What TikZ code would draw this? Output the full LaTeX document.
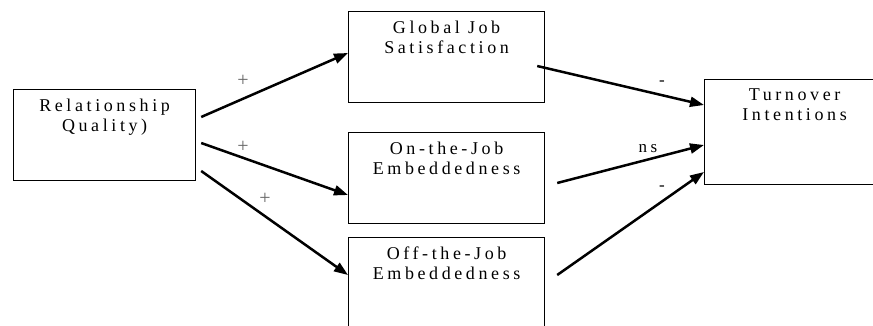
\documentclass[tikz,border=0pt]{standalone}
\usepackage{fontspec}
\setmainfont{Liberation Serif}
\newfontfamily\spacedfont[LetterSpace=20]{Liberation Serif}
\usetikzlibrary{arrows.meta,calc}
\tikzset{
  boxnode/.style={draw=black, line width=1.2pt, inner sep=0pt, anchor=north west},
  boxtext/.style={anchor=north, inner sep=0pt, align=center,
    font=\fontsize{18pt}{20pt}\spacedfont},
  arr/.style={line width=2.5pt, -{Triangle[length=14pt,width=10pt]}},
  plus/.style={inner sep=0pt, text=black!60, font=\fontsize{20pt}{22pt}\selectfont},
  sign/.style={inner sep=0pt, font=\fontsize{17pt}{18pt}\spacedfont}
}
\begin{document}
\begin{tikzpicture}[x=1pt,y=-1pt]
\useasboundingbox (0,0) rectangle (873,326);
\clip (0,0) rectangle (873,326);
% boxes
\node[boxnode, minimum width=182pt, minimum height=91pt] (rq) at (13,89) {};
\node[boxnode, minimum width=196pt, minimum height=91pt] (gjs) at (348,11) {};
\node[boxnode, minimum width=196pt, minimum height=91pt] (otj) at (348,132) {};
\node[boxnode, minimum width=196pt, minimum height=110pt] (offj) at (348,237) {};
\node[boxnode, minimum width=180pt, minimum height=105pt] (ti) at (704,79) {};
% texts
\node[boxtext] (rqt) at ($(rq.north)+(0,9.5)$) {Relationship\\Quality)};
\node[boxtext] (gjst) at ($(gjs.north)+(0,9.5)$) {Global Job\\Satisfaction};
\node[boxtext] (otjt) at ($(otj.north)+(0,9.5)$) {On-the-Job\\Embeddedness};
\node[boxtext] (offjt) at ($(offj.north)+(0,9.5)$) {Off-the-Job\\Embeddedness};
\node[boxtext] (tit) at ($(ti.north)+(0,9.5)$) {Turnover\\Intentions};
% arrows
\draw[arr] ($(rq.north east)+(5,28)$) -- ($(gjs.north west)+(0,42)$);
\draw[arr] ($(rq.north east)+(5,54)$) -- ($(otj.north west)+(0,63)$);
\draw[arr] ($(rq.north east)+(5,82)$) -- ($(offj.north west)+(0,38)$);
\draw[arr] ($(gjs.north east)+(-8,55)$) -- ($(ti.north west)+(0,26)$);
\draw[arr] ($(otj.north east)+(12,51)$) -- ($(ti.north west)+(0,66)$);
\draw[arr] ($(offj.north east)+(12,38)$) -- ($(ti.north west)+(0,93)$);
% labels
\node[plus] (l1) at (243,81) {+};
\node[plus] (l2) at (243,147) {+};
\node[plus] (l3) at (265,199) {+};
\node[sign] (l4) at (662,83) {-};
\node[sign, anchor=base] (l5) at (648,153) {ns};
\node[sign] (l6) at (662,188) {-};
\end{tikzpicture}
\end{document}
